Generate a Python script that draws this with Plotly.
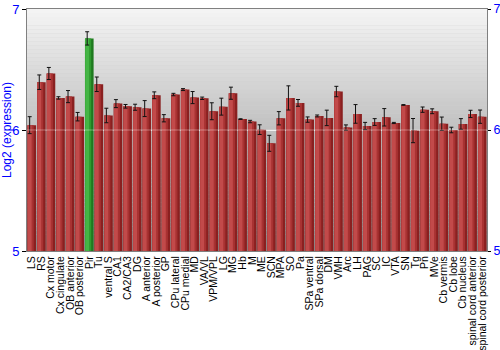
import plotly.graph_objects as go

categories = ["LS", "RS", "Cx motor", "Cx cingulate", "OB anterior", "OB posterior", "Pir", "Tu",
              "ventral S", "CA1", "CA2/CA3", "DG", "A anterior", "A posterior", "GP", "CPu lateral",
              "CPu medial", "MD", "VA/VL", "VPM/VPL", "LG", "MG", "Hb", "M", "ME", "SCN", "MPA",
              "SO", "Pa", "SPa ventral", "SPa dorsal", "DM", "VMH", "Arc", "LH", "PAG", "SC", "IC",
              "VTA", "SN", "Tg", "Pn", "MVe", "Cb vermis", "Cb lobe", "Cb nucleus",
              "spinal cord anterior", "spinal cord posterior"]
values = [6.04, 6.395, 6.467, 6.265, 6.276, 6.11, 6.757, 6.378,
          6.12, 6.218, 6.196, 6.188, 6.177, 6.287, 6.097, 6.293,
          6.334, 6.268, 6.262, 6.155, 6.193, 6.304, 6.09, 6.07, 6.003, 5.89, 6.097,
          6.265, 6.224, 6.086, 6.116, 6.10, 6.318, 6.02, 6.133, 6.033, 6.066, 6.105,
          6.058, 6.207, 5.995, 6.168, 6.155, 6.052, 6.0, 6.05,
          6.133, 6.11]
errors = [0.07, 0.06, 0.05, 0.01, 0.05, 0.035, 0.055, 0.06,
          0.06, 0.033, 0.015, 0.025, 0.066, 0.028, 0.03, 0.01,
          0.008, 0.05, 0.01, 0.07, 0.07, 0.05, 0.003, 0.01, 0.04, 0.066, 0.055,
          0.1, 0.028, 0.022, 0.008, 0.064, 0.043, 0.022, 0.077, 0.03, 0.028, 0.072,
          0.005, 0.003, 0.1, 0.022, 0.02, 0.055, 0.023, 0.044,
          0.03, 0.055]
highlight = "Pir"

dark = ["#1f7a1f" if c == highlight else "#8a2020" for c in categories]
mid = ["#2f9a2f" if c == highlight else "#a83232" for c in categories]
light = ["#45b545" if c == highlight else "#c24a4a" for c in categories]

fig = go.Figure()
fig.add_trace(go.Bar(x=categories, y=values, width=0.9, marker=dict(color=dark, line=dict(width=0)),
                     hoverinfo="skip", showlegend=False))
fig.add_trace(go.Bar(x=categories, y=values, width=0.65, offset=-0.45, marker=dict(color=mid, line=dict(width=0)),
                     hoverinfo="skip", showlegend=False))
fig.add_trace(go.Bar(x=categories, y=values, width=0.4, offset=-0.42, marker=dict(color=light, line=dict(width=0)),
                     showlegend=False,
                     error_y=dict(type="data", array=errors, color="#111111", thickness=1, width=2)))
# invisible trace for right axis
fig.add_trace(go.Scatter(x=[categories[0]], y=[6], yaxis="y2", mode="markers",
                         marker=dict(opacity=0), showlegend=False, hoverinfo="skip"))

# background gradient bands
n = 60
shapes = []
for i in range(n):
    t = i / (n - 1)
    v = int(round(0xf4 - t * (0xf4 - 0x8c)))
    col = f"rgb({v},{v},{v})"
    y1 = 7 - 2 * i / n
    y0 = 7 - 2 * (i + 1) / n
    shapes.append(dict(type="rect", xref="paper", yref="y", x0=0, x1=1, y0=y0, y1=y1,
                       fillcolor=col, line=dict(width=0), layer="below"))
shapes.append(dict(type="line", xref="paper", yref="y", x0=0, x1=1, y0=6, y1=6,
                   line=dict(color="rgba(255,255,255,0.35)", width=1), layer="above"))

fig.update_layout(
    width=500, height=350,
    margin=dict(l=27, r=13, t=9, b=99),
    paper_bgcolor="white", plot_bgcolor="#d0d0d0",
    barmode="overlay",
    shapes=shapes,
    font=dict(family="Liberation Sans, Arial, sans-serif", color="black"),
    xaxis=dict(tickangle=-90, tickfont=dict(size=10.5, color="black"), showline=True, mirror=True,
               linecolor="#808080", linewidth=1, ticks="", showgrid=False, automargin=False,
               tickmode="array", tickvals=categories, ticktext=categories,
               range=[-0.5, len(categories) - 0.5]),
    yaxis=dict(range=[5, 7], tickvals=[5, 6, 7], tickfont=dict(size=13, color="blue"),
               ticks="outside", ticklen=4, tickcolor="black", showline=True, linecolor="#808080",
               showgrid=True, gridcolor="#f0f0f0", gridwidth=1, zeroline=False, automargin=False,
               title=dict(text="Log2 (expression)", font=dict(size=12, color="blue"), standoff=4)),
    yaxis2=dict(range=[5, 7], tickvals=[5, 6, 7], overlaying="y", side="right", automargin=False,
                tickfont=dict(size=12.5, color="blue"), ticks="outside", ticklen=3, tickcolor="black",
                ticklabelstandoff=0,
                showline=True, linecolor="#808080", showgrid=False, zeroline=False),
)

fig.write_html("out.html")
